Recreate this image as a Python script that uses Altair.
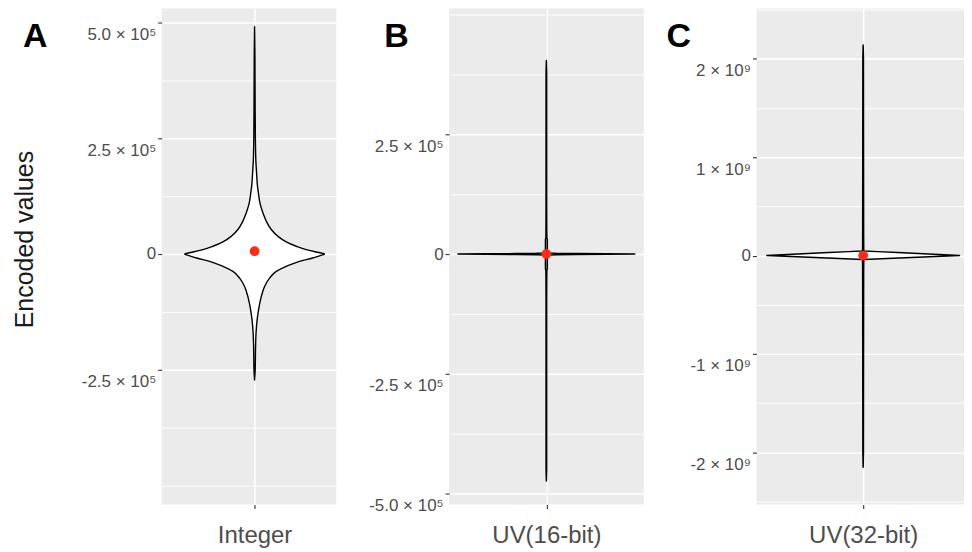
import altair as alt
import pandas as pd

FONT = "Liberation Sans"
RED = "#FF2A1A"

# ---------------- data ----------------
categories = ["Integer", "UV(16-bit)", "UV(32-bit)"]
panel_letters = ["A", "B", "C"]
means = [6000, 0, 0]

# Panel A: violin outline (value, relative half-width)
a_values = [491000, 440000, 350000, 250000, 200000, 175000, 151000, 129000, 107000,
            89100, 71000, 52900, 38400, 26100, 16700, 9420, 4350, 1500, 0,
            -1500, -4000, -8700, -15900, -26800, -37700, -52200, -70300, -92000,
            -117000, -139000, -170000, -200000, -250000, -272000]
a_density = [0.0, 0.0043, 0.0071, 0.0114, 0.0186, 0.0286, 0.0386, 0.0571, 0.0814,
             0.1186, 0.167, 0.2386, 0.333, 0.453, 0.596, 0.739, 0.881, 0.971, 1.0,
             0.986, 0.929, 0.829, 0.643, 0.453, 0.31, 0.214, 0.143, 0.096,
             0.061, 0.039, 0.021, 0.014, 0.0086, 0.0]

# Panel B
b_values = [404000, 380000, 300000, 200000, 100000, 50000, 34000, 31000, 15000, 3000,
            2200, 1500, 900, 400, 0, -400, -900, -1500, -2200, -3000, -15000, -31000,
            -34000, -50000, -100000, -200000, -300000, -400000, -450000, -474000]
b_density = [0.0, 0.0034, 0.0034, 0.0034, 0.0036, 0.0045, 0.0056, 0.0105, 0.0105, 0.0105,
             0.0337, 0.112, 0.337, 0.674, 1.0, 0.674, 0.337, 0.112, 0.0337, 0.0105, 0.0105,
             0.0105, 0.0056, 0.0045, 0.0036, 0.0034, 0.0034, 0.0034, 0.0034, 0.0]

# Panel C
c_values = [2140000000, 2000000000, 1000000000, 200000000, 60000000, 47000000, 40000000,
            30000000, 20000000, 10000000, 0, -10000000, -20000000, -30000000, -40000000,
            -55000000, -200000000, -1000000000, -2000000000, -2150000000]
c_density = [0.0, 0.0031, 0.0041, 0.0052, 0.0062, 0.008, 0.149, 0.362, 0.574, 0.787, 1.0,
             0.75, 0.5, 0.25, 0.008, 0.0062, 0.0052, 0.0041, 0.0031, 0.0]

# axis ticks / labels / gridlines
a_ticks = [500000, 250000, 0, -250000]
a_tick_labels = ["5.0 × 10⁵", "2.5 × 10⁵", "0", "-2.5 × 10⁵"]
a_grid = [500000, 375000, 250000, 125000, 0, -125000, -250000, -375000, -500000]

b_ticks = [250000, 0, -250000, -500000]
b_tick_labels = ["2.5 × 10⁵", "0", "-2.5 × 10⁵", "-5.0 × 10⁵"]
b_grid = [500000, 375000, 250000, 125000, 0, -125000, -250000, -375000, -500000]

c_ticks = [2000000000, 1000000000, 0, -1000000000, -2000000000]
c_tick_labels = ["2 × 10⁹", "1 × 10⁹", "0", "-1 × 10⁹", "-2 × 10⁹"]
c_grid = [2500000000, 2000000000, 1500000000, 1000000000, 500000000, 0, -500000000,
          -1000000000, -1500000000, -2000000000, -2500000000]

# scale settings (layout)
y_domains = [[-541000, 530000], [-523000, 512500], [-2530000000, 2510000000]]
x_domains = [[-1.33, 1.17], [-1.1, 1.1], [-1.108, 1.047]]
widths = [175, 195, 208]
letter_dx = [-139, -65, -90]
LETTER_Y = 39
PLOT_H = 497


def y_axis(ticks, labels, grid, title):
    is_major = " || ".join(f"datum.value == {t}" for t in ticks)
    sup = " || ".join(f"datum.value == {t}" for t, l in zip(ticks, labels) if l != "0")
    label_expr = "".join(f"datum.value == {t} ? '{l}' : " for t, l in zip(ticks, labels)) + "''"
    kw = dict(
        values=grid, labelExpr=label_expr, grid=True, gridColor="white",
        gridWidth={"condition": {"test": is_major, "value": 1.4}, "value": 0.9},
        tickOpacity={"condition": {"test": is_major, "value": 1}, "value": 0},
        labelOffset={"condition": {"test": sup, "value": 12}, "value": 0},
        labelFontSize={"condition": {"test": is_major, "value": 17}, "value": 0},
        tickSize=4, tickColor="#333333", tickWidth=1.1, domain=False,
        labelColor="#4D4D4D", labelPadding=2, labelFont=FONT,
        labelOverlap=False, labelFlush=False, minExtent=80, maxExtent=80,
    )
    if title:
        kw.update(title=title, titleFontSize=25, titleFontWeight="normal", titleColor="#1A1A1A",
                  titleFont=FONT, titlePadding=44, titleY=231)
    else:
        kw.update(title=None)
    return alt.Axis(**kw)


def panel(i, values, density, ticks, labels, grid, title):
    df = pd.DataFrame({"value": values, "lo": [-d for d in density], "hi": density})
    df = df.sort_values("value")
    ysc = alt.Scale(domain=y_domains[i], nice=False, zero=False)
    xsc = alt.Scale(domain=x_domains[i], nice=False, zero=False)
    yax = y_axis(ticks, labels, grid, title)
    xax = alt.Axis(values=[0], labelExpr=f"'{categories[i]}'", grid=True, gridColor="white",
                   gridWidth=1.4, tickSize=4, tickColor="#333333", tickWidth=1.1,
                   labelFontSize=24, labelColor="#4D4D4D", labelPadding=15, domain=False,
                   title=None, labelFlush=False, labelFont=FONT)
    violin = alt.Chart(df).mark_area(
        orient="horizontal", fill="white", stroke="black",
        strokeWidth=1.4 if i == 0 else 1.5,
        strokeJoin="round", interpolate="monotone" if i == 0 else "linear",
    ).encode(
        y=alt.Y("value:Q", scale=ysc, axis=yax),
        x=alt.X("lo:Q", scale=xsc, axis=xax),
        x2="hi:Q",
    )
    mdf = pd.DataFrame({"value": [means[i]], "lo": [0]})
    dot = alt.Chart(mdf).mark_circle(size=95, color=RED, opacity=1).encode(
        y=alt.Y("value:Q", scale=ysc, axis=yax),
        x=alt.X("lo:Q", scale=xsc, axis=xax),
    )
    tag = alt.Chart(pd.DataFrame({"letter": [panel_letters[i]]})).mark_text(
        align="left", baseline="alphabetic", fontSize=34, fontWeight="bold",
        font=FONT, color="black",
    ).encode(text="letter:N", x=alt.value(letter_dx[i]), y=alt.value(LETTER_Y))
    return alt.layer(violin, dot, tag).properties(width=widths[i], height=PLOT_H)


pa = panel(0, a_values, a_density, a_ticks, a_tick_labels, a_grid, "Encoded values")
pb = panel(1, b_values, b_density, b_ticks, b_tick_labels, b_grid, None)
pc = panel(2, c_values, c_density, c_ticks, c_tick_labels, c_grid, None)

chart = alt.hconcat(pa, pb, pc, spacing=113, bounds="flush").properties(
    padding={"left": 5, "top": 0, "right": 0, "bottom": 0}
).configure_view(fill="#EBEBEB", strokeWidth=0)

chart.save("out.html", embed_options={"renderer": "svg", "actions": False})
